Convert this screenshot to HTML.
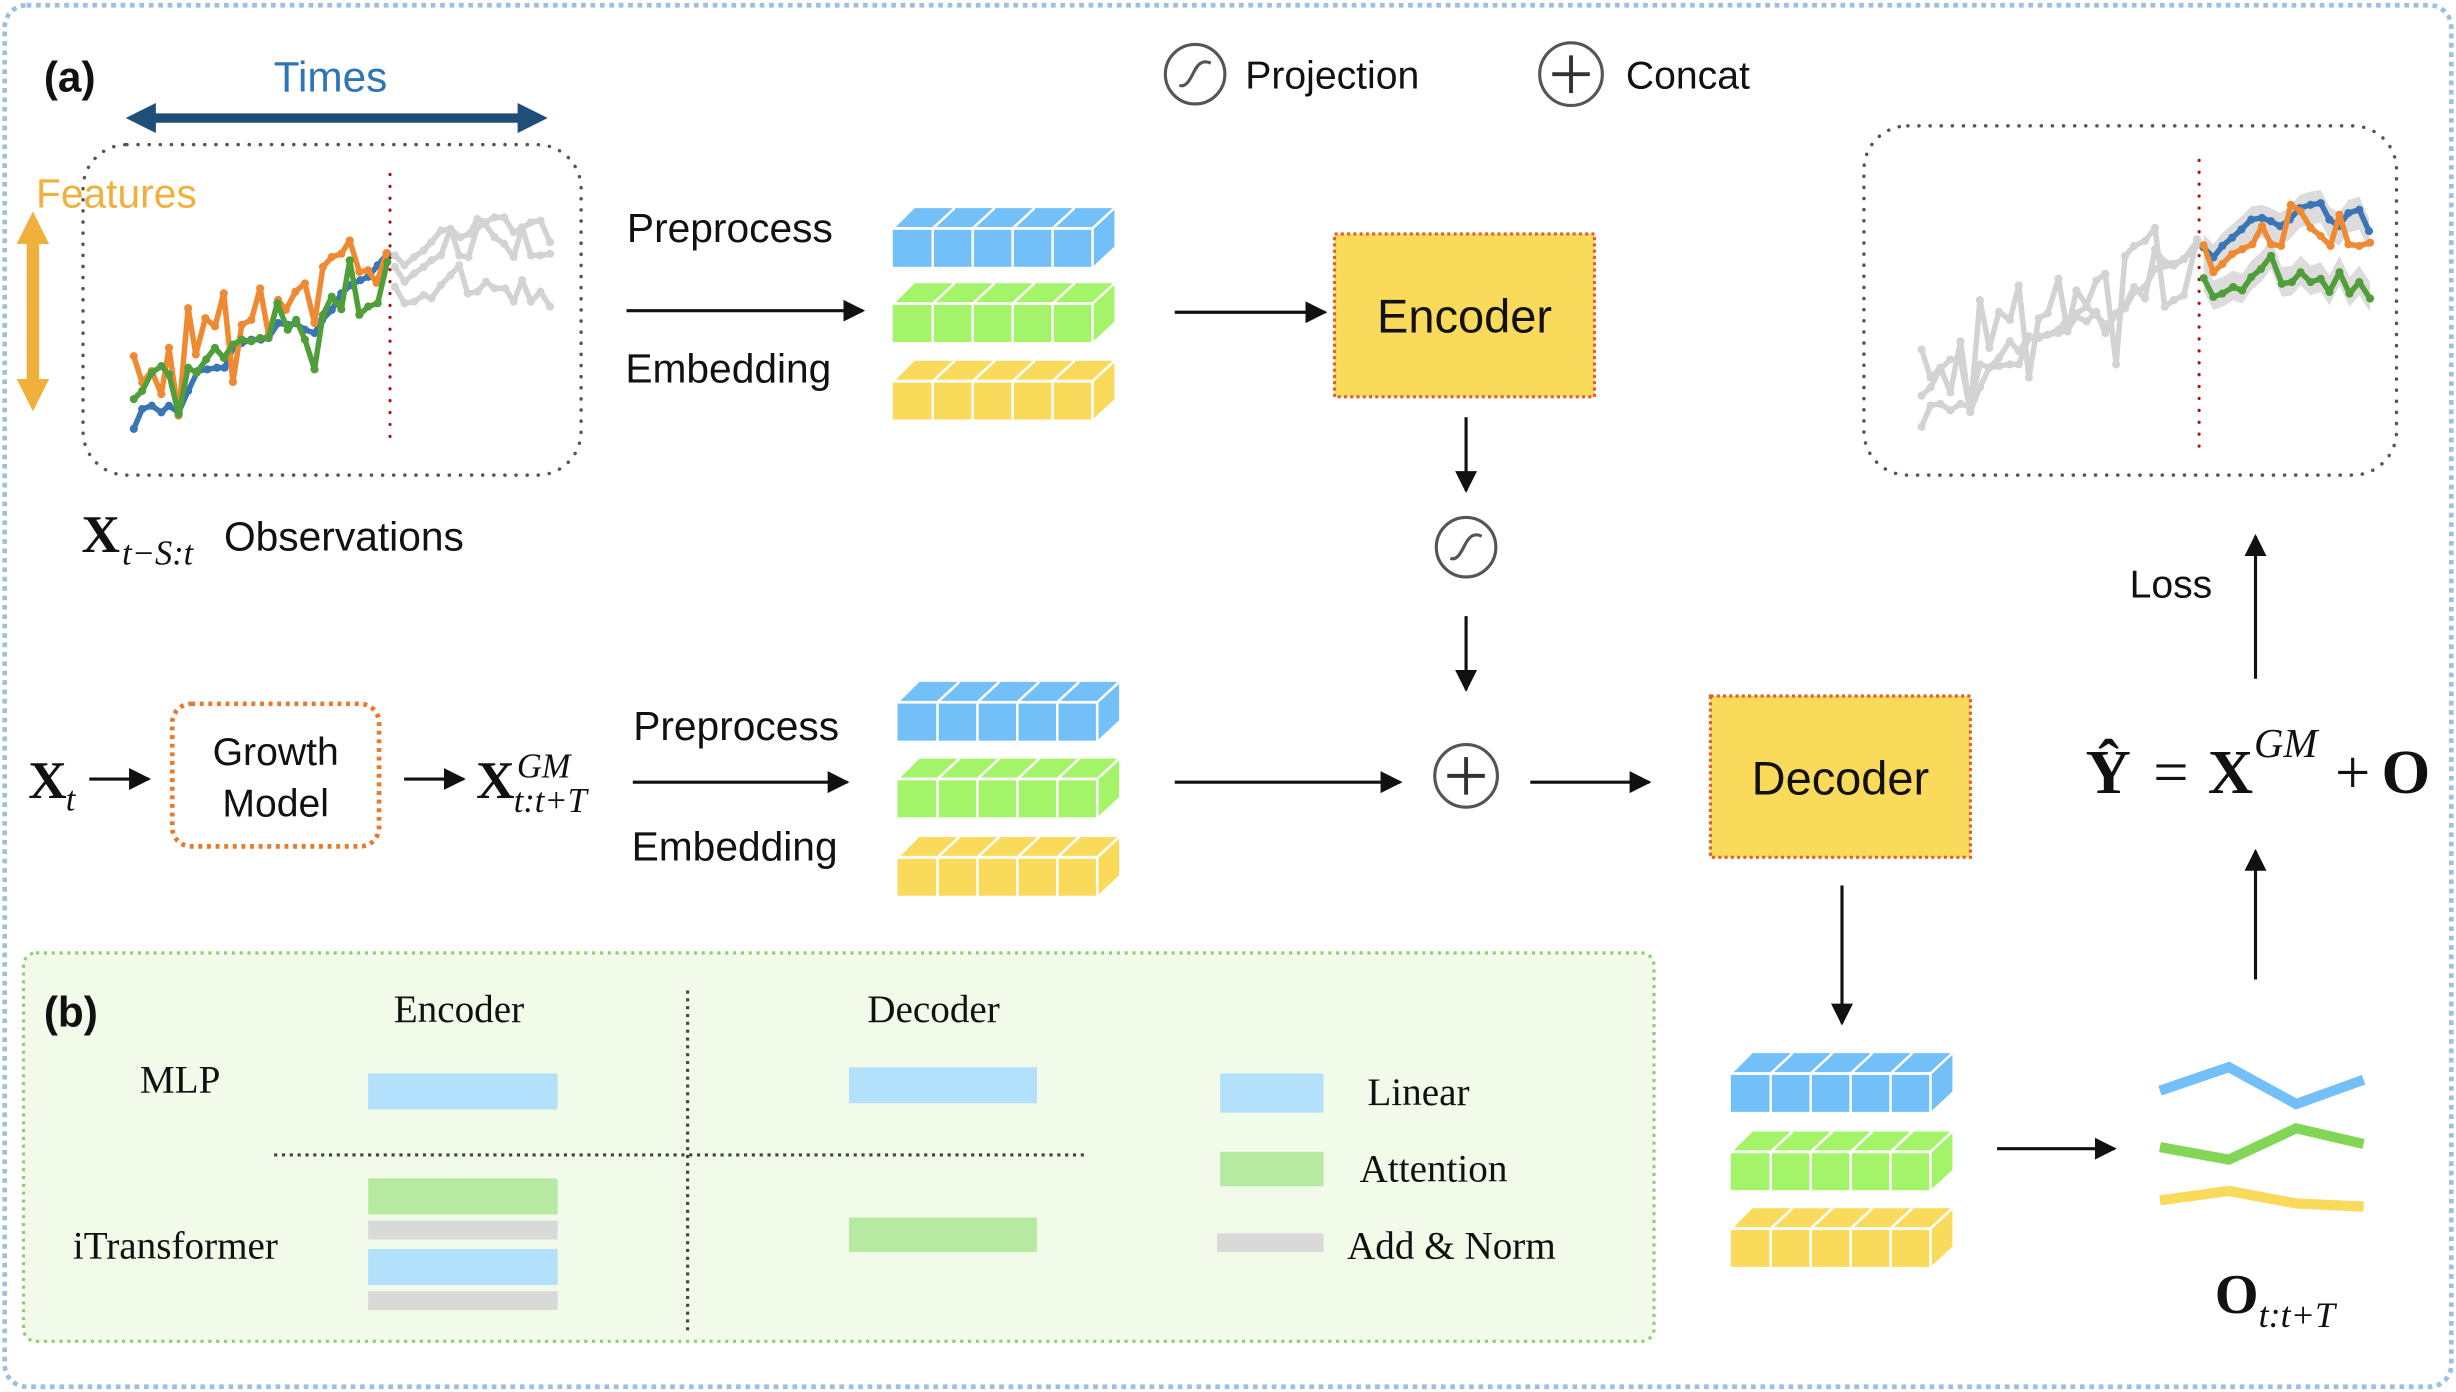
<!DOCTYPE html>
<html><head><meta charset="utf-8"><style>
html,body{margin:0;padding:0;background:#fff}
svg{display:block}
.t{font-family:"Liberation Sans",sans-serif;fill:#111}
.m{font-family:"Liberation Serif",serif;fill:#111}
</style></head><body>
<svg id="s" width="2456" height="1392" viewBox="0 0 1568 888" xmlns="http://www.w3.org/2000/svg">
<defs>
<marker id="ar" viewBox="0 0 10 10" refX="9" refY="5" markerWidth="7" markerHeight="7" orient="auto-start-reverse"><path d="M0,0 L10,5 L0,10 z" fill="#111"/></marker>
<marker id="nv" viewBox="0 0 10 10" refX="6" refY="5" markerWidth="3.2" markerHeight="3.2" orient="auto-start-reverse"><path d="M0,0 L10,5 L0,10 z" fill="#1f4e79"/></marker>
<marker id="og" viewBox="0 0 10 10" refX="6" refY="5" markerWidth="2.6" markerHeight="2.6" orient="auto-start-reverse"><path d="M0,0 L10,5 L0,10 z" fill="#f0b03c"/></marker>
</defs>
<rect x="3" y="3" width="1562" height="882" rx="14" fill="none" stroke="#9dbfe0" stroke-width="3" stroke-dasharray="3 3"/>
<text x="28" y="58" class="t" font-size="27" font-weight="bold">(a)</text>
<text x="211" y="58" class="t" font-size="27" text-anchor="middle" style="fill:#2e75b6">Times</text>
<line x1="88" y1="75" x2="342" y2="75" stroke="#1f4e79" stroke-width="6" marker-start="url(#nv)" marker-end="url(#nv)"/>
<rect x="53" y="92" width="318" height="211" rx="28" fill="none" stroke="#555" stroke-width="2.2" stroke-dasharray="0.1 7" stroke-linecap="round"/>
<text x="23" y="132" class="t" font-size="26" style="fill:#f0b03c">Features</text>
<line x1="21" y1="143" x2="21" y2="254" stroke="#f0b03c" stroke-width="8" marker-start="url(#og)" marker-end="url(#og)"/>
<line x1="249" y1="111" x2="249" y2="281" stroke="#a11" stroke-width="2" stroke-dasharray="0.1 7.5" stroke-linecap="round"/>
<g id="lc"></g>
<rect x="1190" y="80" width="340" height="223" rx="28" fill="none" stroke="#555" stroke-width="2.2" stroke-dasharray="0.1 7" stroke-linecap="round"/>
<line x1="1404" y1="102" x2="1404" y2="285" stroke="#a11" stroke-width="2" stroke-dasharray="0.1 7.5" stroke-linecap="round"/>
<g id="rc"></g>
<circle cx="763" cy="47" r="19" fill="none" stroke="#555" stroke-width="2"/>
<path d="M753,54 C757,56 760,50 762,46 C764,42 767,37 773,40" fill="none" stroke="#555" stroke-width="2"/>
<text x="795" y="56" class="t" font-size="25">Projection</text>
<circle cx="1003" cy="47" r="20" fill="none" stroke="#555" stroke-width="2"/>
<path d="M991,47 H1015 M1003,35 V59" stroke="#333" stroke-width="2.5"/>
<text x="1038" y="56" class="t" font-size="25">Concat</text>
<text x="466" y="154" class="t" font-size="26" text-anchor="middle">Preprocess</text>
<line x1="400" y1="198" x2="551" y2="198" stroke="#111" stroke-width="2" marker-end="url(#ar)"/>
<text x="465" y="244" class="t" font-size="26" text-anchor="middle">Embedding</text>
<g id="b1"></g>
<line x1="750" y1="199" x2="846" y2="199" stroke="#111" stroke-width="2" marker-end="url(#ar)"/>
<rect x="852" y="149" width="166" height="104" fill="#f9da5b" stroke="#e0612b" stroke-width="2" stroke-dasharray="2 2"/>
<text x="935" y="212" class="t" font-size="30" text-anchor="middle">Encoder</text>
<line x1="936" y1="266" x2="936" y2="313" stroke="#111" stroke-width="2" marker-end="url(#ar)"/>
<circle cx="936" cy="349" r="19" fill="none" stroke="#555" stroke-width="2"/>
<path d="M926,356 C930,358 933,352 935,348 C937,344 940,339 946,342" fill="none" stroke="#555" stroke-width="2"/>
<line x1="936" y1="393" x2="936" y2="440" stroke="#111" stroke-width="2" marker-end="url(#ar)"/>
<circle cx="936" cy="495" r="20" fill="none" stroke="#555" stroke-width="2"/>
<path d="M924,495 H948 M936,483 V507" stroke="#333" stroke-width="2.5"/>
<text x="52" y="352" class="m" font-size="34" font-weight="bold">X</text>
<text x="78" y="360" class="m" font-size="22" font-style="italic">t−S:t</text>
<text x="143" y="351" class="t" font-size="26">Observations</text>
<text x="18" y="509" class="m" font-size="34" font-weight="bold">X</text>
<text x="42" y="517" class="m" font-size="22" font-style="italic">t</text>
<line x1="57" y1="497" x2="95" y2="497" stroke="#111" stroke-width="2" marker-end="url(#ar)"/>
<rect x="110" y="449" width="132" height="91" rx="12" fill="none" stroke="#e87a2e" stroke-width="3" stroke-dasharray="2.5 3"/>
<text x="176" y="488" class="t" font-size="25" text-anchor="middle">Growth</text>
<text x="176" y="521" class="t" font-size="25" text-anchor="middle">Model</text>
<line x1="258" y1="497" x2="296" y2="497" stroke="#111" stroke-width="2" marker-end="url(#ar)"/>
<text x="304" y="509" class="m" font-size="34" font-weight="bold">X</text>
<text x="330" y="496" class="m" font-size="22" font-style="italic">GM</text>
<text x="328" y="518" class="m" font-size="22" font-style="italic">t:t+T</text>
<text x="470" y="472" class="t" font-size="26" text-anchor="middle">Preprocess</text>
<line x1="404" y1="499" x2="541" y2="499" stroke="#111" stroke-width="2" marker-end="url(#ar)"/>
<text x="469" y="549" class="t" font-size="26" text-anchor="middle">Embedding</text>
<g id="b2"></g>
<line x1="750" y1="499" x2="894" y2="499" stroke="#111" stroke-width="2" marker-end="url(#ar)"/>
<line x1="977" y1="499" x2="1053" y2="499" stroke="#111" stroke-width="2" marker-end="url(#ar)"/>
<rect x="1092" y="444" width="166" height="103" fill="#f9da5b" stroke="#e0612b" stroke-width="2" stroke-dasharray="2 2"/>
<text x="1175" y="507" class="t" font-size="30" text-anchor="middle">Decoder</text>
<line x1="1176" y1="565" x2="1176" y2="653" stroke="#111" stroke-width="2" marker-end="url(#ar)"/>
<g id="b3"></g>
<line x1="1275" y1="733" x2="1350" y2="733" stroke="#111" stroke-width="2" marker-end="url(#ar)"/>
<polyline points="1379,696 1423,681 1466,704.5 1509,689" fill="none" stroke="#73bff8" stroke-width="6.5"/>
<polyline points="1379,732 1423,740 1466,720 1509,730" fill="none" stroke="#82d655" stroke-width="6.5"/>
<polyline points="1379,766 1423,760 1466,768 1509,770" fill="none" stroke="#f9da5b" stroke-width="6.5"/>
<text x="1414" y="838" class="m" font-size="36" font-weight="bold">O</text>
<text x="1442" y="847" class="m" font-size="23" font-style="italic">t:t+T</text>
<line x1="1440" y1="625" x2="1440" y2="543" stroke="#111" stroke-width="2" marker-end="url(#ar)"/>
<text x="1346" y="506" class="m" font-size="40" font-weight="bold" text-anchor="middle">Ŷ</text>
<text x="1386" y="506" class="m" font-size="40" text-anchor="middle">=</text>
<text x="1424" y="506" class="m" font-size="40" font-weight="bold" text-anchor="middle">X</text>
<text x="1439" y="483" class="m" font-size="26" font-style="italic">GM</text>
<text x="1502" y="506" class="m" font-size="40" text-anchor="middle">+</text>
<text x="1536" y="506" class="m" font-size="40" font-weight="bold" text-anchor="middle">O</text>
<line x1="1440" y1="433" x2="1440" y2="342" stroke="#111" stroke-width="2" marker-end="url(#ar)"/>
<text x="1386" y="381" class="t" font-size="25" text-anchor="middle">Loss</text>
<rect x="15" y="608" width="1041" height="248" rx="8" fill="#f2fbea" stroke="#8fce6f" stroke-width="2" stroke-dasharray="2 3"/>
<text x="28" y="655" class="t" font-size="27" font-weight="bold">(b)</text>
<text x="293" y="652" class="m" font-size="25" text-anchor="middle">Encoder</text>
<text x="596" y="652" class="m" font-size="25" text-anchor="middle">Decoder</text>
<text x="115" y="697" class="m" font-size="25" text-anchor="middle">MLP</text>
<text x="112" y="803" class="m" font-size="25" text-anchor="middle">iTransformer</text>
<line x1="439" y1="632" x2="439" y2="850" stroke="#444" stroke-width="2" stroke-dasharray="2 3"/>
<line x1="175" y1="737" x2="692" y2="737" stroke="#444" stroke-width="2" stroke-dasharray="2 3"/>
<rect x="235" y="685" width="121" height="23" fill="#b3e0fb"/>
<rect x="542" y="681" width="120" height="23" fill="#b3e0fb"/>
<rect x="235" y="752" width="121" height="23" fill="#b5eaa0"/>
<rect x="235" y="779" width="121" height="12" fill="#d9d9d9"/>
<rect x="235" y="797" width="121" height="23" fill="#b3e0fb"/>
<rect x="235" y="824" width="121" height="12" fill="#d9d9d9"/>
<rect x="542" y="777" width="120" height="22" fill="#b5eaa0"/>
<rect x="779" y="685" width="66" height="25" fill="#b3e0fb"/>
<text x="873" y="705" class="m" font-size="25">Linear</text>
<rect x="779" y="735" width="66" height="22" fill="#b5eaa0"/>
<text x="868" y="754" class="m" font-size="25">Attention</text>
<rect x="777" y="787" width="68" height="12" fill="#d9d9d9"/>
<text x="860" y="803" class="m" font-size="25">Add &amp; Norm</text>
</svg>
<script>
var NS="http://www.w3.org/2000/svg";
function el(p,n,a){var e=document.createElementNS(NS,n);for(var k in a)e.setAttribute(k,a[k]);p.appendChild(e);return e;}
function block(g,x,y,c){
 var w=127.5,h=24.5,d=14,u=13;
 el(g,"polygon",{points:[x+1,y,x+d,y-u,x+w+d,y-u,x+w,y].join(" "),fill:c});
 el(g,"polygon",{points:[x+w,y,x+w+d,y-u,x+w+d,y+h-u,x+w,y+h].join(" "),fill:c});
 el(g,"rect",{x:x,y:y,width:w,height:h,fill:c});
 for(var i=1;i<5;i++){var xx=x+i*w/5;
  el(g,"line",{x1:xx,y1:y,x2:xx,y2:y+h,stroke:"#fff","stroke-width":1.6});
  el(g,"line",{x1:xx,y1:y,x2:xx+d,y2:y-u,stroke:"#fff","stroke-width":1.6});}
 el(g,"line",{x1:x,y1:y,x2:x+w,y2:y,stroke:"#fff","stroke-width":1.8});
 el(g,"line",{x1:x+w,y1:y,x2:x+w+d,y2:y-u,stroke:"#fff","stroke-width":1.6});
 el(g,"line",{x1:x+w,y1:y,x2:x+w,y2:y+h,stroke:"#fff","stroke-width":1.6});
}
function blocks(id,x,ys){var g=document.getElementById(id);block(g,x,ys[0],"#73bff8");block(g,x,ys[1],"#a4f46a");block(g,x,ys[2],"#f9da5b");}
blocks("b1",570,[145.5,193.5,243]);
blocks("b2",573,[448,497,547]);
blocks("b3",1105,[685,735,784]);
function series(g,pts,fx,fy,col,sw,r){
 var P=[];for(var i=0;i<pts.length;i+=2)P.push([fx(pts[i]),fy(pts[i+1])]);
 el(g,"polyline",{points:P.map(function(p){return p.join(",")}).join(" "),fill:"none",stroke:col,"stroke-width":sw,"stroke-linejoin":"round"});
 P.forEach(function(p){el(g,"circle",{cx:p[0],cy:p[1],r:r,fill:col});});
}
var lc=document.getElementById("lc");
var lx=function(z){return 81+(z-330)*0.2445},ly=function(z){return 92+(z-130)*0.211};
series(lc,[1030,465,1055,495,1080,470,1105,450,1125,425,1150,390,1175,385,1200,410,1225,400,1245,355,1265,365,1290,350,1315,350,1340,395,1360,385,1385,365,1410,360,1435,425],lx,ly,"#d3d3d3",3.5,2.6);
series(lc,[1030,500,1055,545,1080,520,1105,500,1125,480,1150,465,1175,385,1198,465,1222,470,1245,380,1265,370,1290,410,1315,430,1340,470,1362,380,1385,465,1410,465,1435,460],lx,ly,"#d3d3d3",3.5,2.6);
series(lc,[1030,560,1055,610,1080,605,1105,585,1125,595,1150,555,1175,525,1198,495,1220,580,1245,575,1268,545,1290,565,1318,565,1340,605,1362,540,1385,605,1410,575,1435,620],lx,ly,"#d3d3d3",3.5,2.6);
series(lc,[348,990,370,930,395,920,420,940,440,920,465,940,490,875,515,815,540,810,565,805,585,805,610,740,630,730,655,720,680,720,700,715,725,670,750,675,770,670,795,690,820,700,840,660,865,630,890,580,915,555,940,540,960,530,985,495,1010,460],lx,ly,"#3a76b5",3.5,2.6);
series(lc,[348,770,370,850,395,815,420,885,440,745,465,950,490,625,510,765,535,655,560,680,583,580,607,848,630,675,655,660,678,565,700,705,725,600,745,630,770,575,795,550,820,670,842,500,865,470,890,460,912,420,937,515,960,510,982,548,1008,458],lx,ly,"#f08a32",3.5,2.6);
series(lc,[348,900,370,875,395,820,420,800,440,825,465,945,490,805,512,820,537,780,560,745,583,775,607,735,630,720,655,725,678,715,700,715,723,610,750,690,772,660,795,720,820,810,842,645,865,590,890,628,912,480,937,645,960,620,985,610,1010,485],lx,ly,"#4f9e3a",3.5,2.6);
var rc=document.getElementById("rc");
var rx=function(z){return 1190+(z-50)*0.230},ry=function(z){return 80+(z-35)*0.21};
function band(pts,up,dn){var a=[],b=[];for(var i=0;i<pts.length;i+=2){a.push(rx(pts[i])+","+ry(pts[i+1]-up));b.unshift(rx(pts[i])+","+ry(pts[i+1]+dn));}
 el(rc,"polygon",{points:a.concat(b).join(" "),fill:"#dcdcdc"});}
var B=[993,405,1020,435,1045,400,1072,375,1098,350,1125,320,1155,315,1180,325,1205,340,1232,320,1260,285,1290,275,1318,270,1342,320,1368,340,1395,300,1425,290,1452,355];
var O=[993,398,1020,480,1045,455,1072,425,1100,410,1128,395,1155,340,1180,395,1208,400,1235,275,1262,295,1290,345,1318,370,1345,400,1370,305,1395,395,1425,400,1455,390];
var G=[993,498,1020,555,1045,545,1075,525,1100,535,1125,495,1152,470,1180,430,1210,515,1238,510,1262,480,1290,510,1318,500,1342,540,1370,480,1398,545,1425,510,1455,560];
band(B,40,60);band(G,50,40);
[[210,715,235,800,262,770,290,845,318,690,345,905,372,565,398,710,425,600,455,625,480,520,508,800,535,620,560,605,590,500,615,660,640,535,668,580,695,505,720,485,750,760,775,430,800,400,830,385,858,345,885,585,910,565,938,550,975,380],
 [210,855,235,830,262,775,290,745,318,745,345,905,372,830,398,770,425,740,455,690,480,720,508,675,535,680,560,670,590,665,615,655,640,615,668,630,695,600,720,665,750,605,775,580,800,525,830,560,858,410,885,450,910,455,938,440,975,400],
 [210,950,235,885,262,880,290,900,318,880,345,890,372,760,398,770,425,765,455,760,480,760,508,680,535,675,560,670,590,655,615,620,640,605,668,585,695,610,720,640,750,610,775,590,800,540,830,525,858,470,885,460,910,460,938,440,975,385]
].forEach(function(p){series(rc,p,rx,ry,"#d3d3d3",3.5,2.6);});
series(rc,B,rx,ry,"#3a76b5",3.5,2.6);
series(rc,O,rx,ry,"#f08a32",3.5,2.6);
series(rc,G,rx,ry,"#4f9e3a",3.5,2.6);
</script>
</body></html>
